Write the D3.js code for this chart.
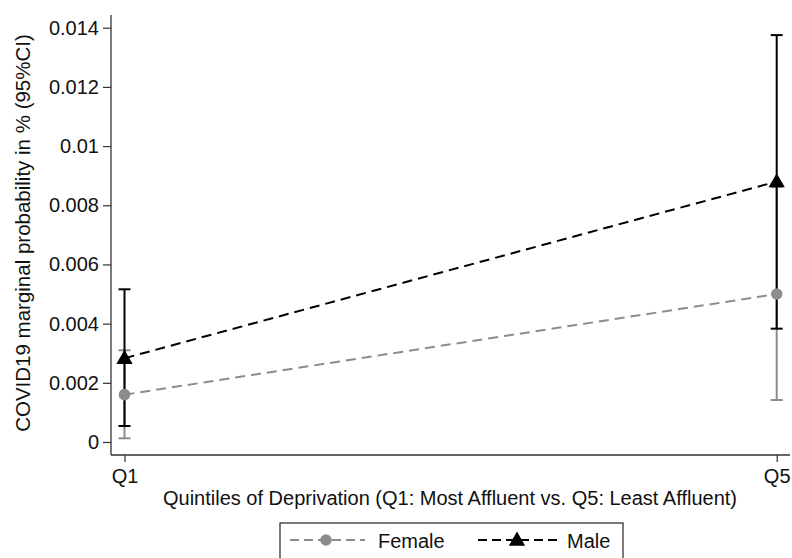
<!DOCTYPE html>
<html>
<head>
  <meta charset="utf-8">
  <title>COVID19 marginal probability by deprivation quintile</title>
  <script src="https://d3js.org/d3.v7.min.js"></script>
  <style>
    body { margin: 0; background: #fff; }
    text { font-family: "Liberation Sans", Arial, sans-serif; fill: #111; }
  </style>
</head>
<body>
<svg width="792" height="558"></svg>
<script>
  // data
  const quintiles = ["Q1", "Q5"];
  const femaleMean = [0.0016, 0.0050];
  const femaleLow = [0.000125, 0.00142];
  const femaleHigh = [0.0031, 0.00862];
  const maleMean = [0.00283, 0.0088];
  const maleLow = [0.00054, 0.00383];
  const maleHigh = [0.00516, 0.01375];
  const yTicks = [0, 0.002, 0.004, 0.006, 0.008, 0.01, 0.012, 0.014];

  const svg = d3.select("svg");
  const femaleCol = "#8c8c8c", maleCol = "#000";

  // scales
  const x = d3.scalePoint().domain(quintiles).range([124.5, 776.7]);
  const y = d3.scaleLinear().domain([0, 0.014]).range([442, 27.7]);

  // axes frame
  const axisLeftX = 111, axisBottomY = 455;
  svg.append("line").attr("x1", axisLeftX).attr("x2", axisLeftX)
     .attr("y1", 15).attr("y2", axisBottomY)
     .attr("stroke", "#333").attr("stroke-width", 1.3);
  svg.append("line").attr("x1", axisLeftX).attr("x2", 790)
     .attr("y1", axisBottomY).attr("y2", axisBottomY)
     .attr("stroke", "#333").attr("stroke-width", 1.3);

  const yAxis = svg.append("g").attr("transform", `translate(${axisLeftX},0)`)
     .call(d3.axisLeft(y).tickValues(yTicks).tickSize(8).tickPadding(4)
       .tickFormat(d => String(+d.toFixed(3))));
  yAxis.select(".domain").remove();
  yAxis.selectAll("line").attr("stroke", "#333").attr("stroke-width", 1.2);
  yAxis.selectAll("text").style("font-size", "20px").attr("fill", "#111");

  const xAxis = svg.append("g").attr("transform", `translate(0,${axisBottomY})`)
     .call(d3.axisBottom(x).tickSize(7).tickPadding(7));
  xAxis.select(".domain").remove();
  xAxis.selectAll("line").attr("stroke", "#333").attr("stroke-width", 1.2);
  xAxis.selectAll("text").style("font-size", "20px").attr("fill", "#111");

  // axis titles
  svg.append("text").attr("x", 450).attr("y", 505).attr("text-anchor", "middle")
     .style("font-size", "20px")
     .text("Quintiles of Deprivation (Q1: Most Affluent vs. Q5: Least Affluent)");
  svg.append("text").attr("transform", "translate(30,233) rotate(-90)")
     .attr("text-anchor", "middle").style("font-size", "20.5px")
     .text("COVID19 marginal probability in % (95%CI)");

  // confidence intervals
  function drawCI(lo, hi, col) {
    const g = svg.append("g").attr("stroke", col).attr("stroke-width", 2);
    quintiles.forEach((q, i) => {
      g.append("line").attr("x1", x(q)).attr("x2", x(q))
        .attr("y1", y(lo[i])).attr("y2", y(hi[i]));
      [lo[i], hi[i]].forEach(v => {
        g.append("line").attr("x1", x(q) - 6).attr("x2", x(q) + 6)
          .attr("y1", y(v)).attr("y2", y(v));
      });
    });
  }
  drawCI(femaleLow, femaleHigh, femaleCol);
  drawCI(maleLow, maleHigh, maleCol);

  // dashed lines + markers
  const line = d3.line().x((d, i) => x(quintiles[i])).y(d => y(d));
  svg.append("path").datum(femaleMean).attr("d", line)
     .attr("fill", "none").attr("stroke", femaleCol).attr("stroke-width", 2)
     .attr("stroke-dasharray", "10,6");
  svg.append("path").datum(maleMean).attr("d", line)
     .attr("fill", "none").attr("stroke", maleCol).attr("stroke-width", 2)
     .attr("stroke-dasharray", "10,6");

  const circ = d3.symbol().type(d3.symbolCircle).size(105);
  const tri = d3.symbol().type(d3.symbolTriangle).size(115);
  svg.selectAll(".fpt").data(femaleMean).enter().append("path")
     .attr("transform", (d, i) => `translate(${x(quintiles[i])},${y(d)})`)
     .attr("d", circ).attr("fill", femaleCol);
  svg.selectAll(".mpt").data(maleMean).enter().append("path")
     .attr("transform", (d, i) => `translate(${x(quintiles[i])},${y(d) + 1})`)
     .attr("d", tri).attr("fill", maleCol);

  // legend
  const leg = svg.append("g");
  leg.append("rect").attr("x", 280).attr("y", 523).attr("width", 343).attr("height", 40)
     .attr("fill", "#fff").attr("stroke", "#333").attr("stroke-width", 1.3);
  const ly = 540;
  leg.append("line").attr("x1", 290).attr("x2", 365).attr("y1", ly).attr("y2", ly)
     .attr("stroke", femaleCol).attr("stroke-width", 2).attr("stroke-dasharray", "9,5");
  leg.append("path").attr("transform", `translate(326,${ly})`).attr("d", circ).attr("fill", femaleCol);
  leg.append("text").attr("x", 378).attr("y", 548).style("font-size", "20px").text("Female");
  leg.append("line").attr("x1", 478).attr("x2", 557).attr("y1", ly).attr("y2", ly)
     .attr("stroke", maleCol).attr("stroke-width", 2).attr("stroke-dasharray", "9,5");
  leg.append("path").attr("transform", `translate(517,${ly + 1})`).attr("d", tri).attr("fill", maleCol);
  leg.append("text").attr("x", 567).attr("y", 548).style("font-size", "20px").text("Male");
</script>
</body>
</html>
